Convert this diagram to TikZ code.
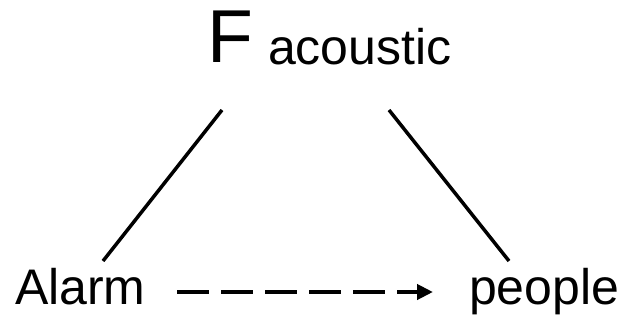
\documentclass[tikz,border=0pt]{standalone}
\usepackage{fontspec}
\setmainfont{Liberation Sans}
\usetikzlibrary{arrows.meta}
\tikzset{
  lbl/.style={inner sep=0pt, outer sep=0pt, anchor=base west, font=\fontsize{50}{60}\selectfont},
  bigF/.style={inner sep=0pt, outer sep=0pt, anchor=base west, font=\fontsize{75}{90}\selectfont},
  solidline/.style={line width=3.5pt},
  dasharrow/.style={line width=4pt, dash pattern=on 32pt off 12pt, -{Triangle[length=16pt,width=15pt]}}
}
\begin{document}
\begin{tikzpicture}[x=1pt,y=-1pt]
\useasboundingbox (0,0) rectangle (628,321);
\node[bigF] (F) at (207,63) {F};
\node[lbl] (acoustic) at (268,64) {acoustic};
\node[lbl] (alarm) at (15,304) {Alarm};
\node[lbl] (people) at (469,304) {people};
\coordinate (lt) at (222,110);
\coordinate (lb) at (103,261);
\coordinate (rt) at (389,110);
\coordinate (rb) at (509,261);
\draw[solidline] (lt) -- (lb);
\draw[solidline] (rt) -- (rb);
\draw[dasharrow, shorten <=31.5pt, shorten >=36pt] ([yshift=12pt]alarm.base east) -- ([yshift=12pt]people.base west);
\end{tikzpicture}
\end{document}
